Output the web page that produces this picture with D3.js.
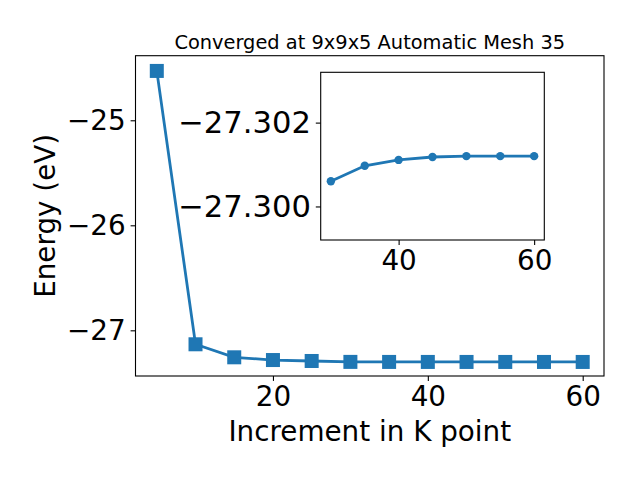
<!DOCTYPE html>
<html><head><meta charset="utf-8">
<script src="https://cdn.jsdelivr.net/npm/d3@7"></script>
<style>body{margin:0;background:#fff}svg{display:block}text{font-family:"DejaVu Sans",sans-serif;fill:#000}</style>
</head><body>
<svg id="c" width="640" height="480"></svg>
<script>
const kPoints = [5,10,15,20,25,30,35,40,45,50,55,60];
const energy = [-24.53,-27.133,-27.257,-27.283,-27.292,-27.3006,-27.30097,-27.30111,-27.30118,-27.3012,-27.3012,-27.3012];
const insetK = [30,35,40,45,50,55,60];
const insetEnergy = [-27.30060,-27.30097,-27.30111,-27.30118,-27.30120,-27.30120,-27.30120];
const xTicks = [20,40,60];
const yTicks = [-27,-26,-25];
const insetXTicks = [40,60];
const insetYTicks = [-27.302,-27.300];
const title = "Converged at 9x9x5 Automatic Mesh 35";
const xLabel = "Increment in K point";
const yLabel = "Energy (eV)";

const color = "#1f77b4";
const svg = d3.select("#c");
const minus = s => s.replace("-", "\u2212");

// main axes
const L=135.5,R=604,T=55.7,B=376;
const x = d3.scaleLinear().domain([2.25,62.75]).range([L,R]);
const y = d3.scaleLinear().domain([-27.435,-24.385]).range([B,T]);

const gx = svg.append("g").attr("transform",`translate(0,${B})`)
  .call(d3.axisBottom(x).tickValues(xTicks).tickSize(4.9).tickPadding(4.9).tickFormat(d3.format("d")));
const gy = svg.append("g").attr("transform",`translate(${L},0)`)
  .call(d3.axisLeft(y).tickValues(yTicks).tickSize(4.9).tickPadding(4.9).tickFormat(d=>minus(d3.format("d")(d))));
[gx,gy].forEach(g=>{g.select(".domain").remove();g.selectAll("line").attr("stroke","#000").attr("stroke-width",1.1);
  g.selectAll("text").attr("font-size","27.8px").attr("font-family","DejaVu Sans").attr("fill","#000");});

svg.append("path").datum(kPoints.map((k,i)=>[k,energy[i]]))
  .attr("d",d3.line().x(d=>x(d[0])).y(d=>y(d[1])))
  .attr("fill","none").attr("stroke",color).attr("stroke-width",2.8);
svg.append("g").selectAll("rect").data(kPoints.map((k,i)=>[k,energy[i]])).join("rect")
  .attr("x",d=>x(d[0])-7).attr("y",d=>y(d[1])-7).attr("width",14).attr("height",14)
  .attr("fill",color);
svg.append("rect").attr("x",L).attr("y",T).attr("width",R-L).attr("height",B-T)
  .attr("fill","none").attr("stroke","#000").attr("stroke-width",1.1);

svg.append("text").attr("x",(L+R)/2).attr("y",T-7).attr("text-anchor","middle")
  .attr("font-size","19.4px").text(title);
svg.append("text").attr("x",(L+R)/2).attr("y",441).attr("text-anchor","middle")
  .attr("font-size","27.8px").text(xLabel);
svg.append("text").attr("transform",`translate(55,${(T+B)/2}) rotate(-90)`).attr("text-anchor","middle")
  .attr("font-size","27.8px").text(yLabel);

// inset
const iL=320.7,iR=544.3,iT=72.3,iB=240;
const ix = d3.scaleLinear().domain([28.5,61.5]).range([iL,iR]);
const iy = d3.scaleLinear().domain([-27.2992,-27.3032]).range([iB,iT]);
svg.append("rect").attr("x",iL).attr("y",iT).attr("width",iR-iL).attr("height",iB-iT).attr("fill","#fff");
const igx = svg.append("g").attr("transform",`translate(0,${iB})`)
  .call(d3.axisBottom(ix).tickValues(insetXTicks).tickSize(4.9).tickPadding(4.9).tickFormat(d3.format("d")));
const igy = svg.append("g").attr("transform",`translate(${iL},0)`)
  .call(d3.axisLeft(iy).tickValues(insetYTicks).tickSize(4.9).tickPadding(4.9).tickFormat(d=>minus(d3.format(".3f")(d))));
[igx,igy].forEach(g=>{g.select(".domain").remove();g.selectAll("line").attr("stroke","#000").attr("stroke-width",1.1);
  g.selectAll("text").attr("font-size","27.8px").attr("font-family","DejaVu Sans").attr("fill","#000");});
igy.selectAll("text").attr("font-size","30.6px");
svg.append("path").datum(insetK.map((k,i)=>[k,insetEnergy[i]]))
  .attr("d",d3.line().x(d=>ix(d[0])).y(d=>iy(d[1])))
  .attr("fill","none").attr("stroke",color).attr("stroke-width",2.8);
svg.append("g").selectAll("circle").data(insetK.map((k,i)=>[k,insetEnergy[i]])).join("circle")
  .attr("cx",d=>ix(d[0])).attr("cy",d=>iy(d[1])).attr("r",4.2).attr("fill",color);
svg.append("rect").attr("x",iL).attr("y",iT).attr("width",iR-iL).attr("height",iB-iT)
  .attr("fill","none").attr("stroke","#000").attr("stroke-width",1.1);
</script>
</body></html>
